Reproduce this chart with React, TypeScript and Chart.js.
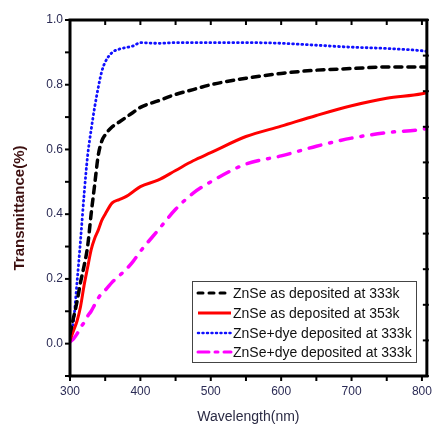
import React, { useEffect, useRef } from "react";
import { Chart, registerables } from "chart.js";

Chart.register(...registerables);

const wavelengths = [300, 305, 310, 315, 320, 325, 330, 335, 340, 345, 350, 360, 370, 380, 390, 400, 425, 450, 475, 500, 550, 600, 650, 700, 750, 800, 807];

const znse333 = [0.03, 0.08, 0.13, 0.19, 0.24, 0.30, 0.40, 0.49, 0.58, 0.625, 0.645, 0.67, 0.685, 0.70, 0.715, 0.73, 0.75, 0.77, 0.785, 0.80, 0.82, 0.835, 0.845, 0.85, 0.855, 0.855, 0.855];
const znse353 = [0.01, 0.04, 0.07, 0.115, 0.18, 0.235, 0.29, 0.325, 0.35, 0.38, 0.40, 0.435, 0.445, 0.455, 0.47, 0.485, 0.505, 0.535, 0.565, 0.59, 0.64, 0.672, 0.705, 0.735, 0.758, 0.772, 0.776];
const dye333a = [0.03, 0.07, 0.19, 0.32, 0.46, 0.58, 0.66, 0.73, 0.79, 0.84, 0.87, 0.90, 0.91, 0.915, 0.92, 0.93, 0.928, 0.93, 0.93, 0.93, 0.93, 0.928, 0.922, 0.916, 0.912, 0.905, 0.903];
const dye333b = [0.005, 0.015, 0.03, 0.05, 0.065, 0.085, 0.10, 0.12, 0.14, 0.155, 0.165, 0.19, 0.21, 0.23, 0.255, 0.285, 0.35, 0.415, 0.465, 0.50, 0.555, 0.58, 0.61, 0.635, 0.652, 0.662, 0.665];

const seriesLabels = [
  "ZnSe as deposited at 333k",
  "ZnSe as deposited at 353k",
  "ZnSe+dye deposited at 333k",
  "ZnSe+dye deposited at 333k",
];

const xTickValues = [300, 400, 500, 600, 700, 800];
const yTickValues = [0.0, 0.2, 0.4, 0.6, 0.8, 1.0];

const FONT = "'Liberation Sans', Arial, sans-serif";

const legendDashes = [[5, 6], [], [1, 3.5], [11, 6, 3, 6]];

const framePlugin = {
  id: "frame",
  afterDraw(chart: any) {
    const ctx = chart.ctx;
    const { left, right, top, bottom } = chart.chartArea;
    const xs = chart.scales.x;
    const ys = chart.scales.y;
    ctx.save();
    ctx.strokeStyle = "#000";
    ctx.lineWidth = 3;
    ctx.setLineDash([]);
    ctx.strokeRect(left, top, right - left, bottom - top);
    ctx.lineWidth = 2;
    for (let v = 300; v <= 800; v += 50) {
      const px = xs.getPixelForValue(v);
      ctx.beginPath();
      ctx.moveTo(px, bottom);
      ctx.lineTo(px, bottom + 5);
      ctx.moveTo(px, top);
      ctx.lineTo(px, top + 5);
      ctx.stroke();
    }
    for (let i = -1; i <= 10; i++) {
      const py = ys.getPixelForValue(i / 10);
      ctx.beginPath();
      ctx.moveTo(left - 5, py);
      ctx.lineTo(left, py);
      ctx.stroke();
    }
    for (let i = 0; i <= 10; i++) {
      const py = top + ((bottom - top) * i) / 10;
      ctx.beginPath();
      ctx.moveTo(right - 4, py);
      ctx.lineTo(right + 2, py);
      ctx.stroke();
    }
    ctx.save();
    ctx.translate(20, 208);
    ctx.rotate(-Math.PI / 2);
    ctx.font = `bold 15px ${FONT}`;
    ctx.fillStyle = "#3d1010";
    ctx.textAlign = "center";
    ctx.textBaseline = "middle";
    ctx.fillText("Transmittance(%)", 0, 0);
    ctx.restore();

    const bx = 192, by = 281, bw = 224, bh = 81;
    ctx.fillStyle = "#fff";
    ctx.fillRect(bx, by, bw, bh);
    ctx.lineWidth = 1;
    ctx.strokeStyle = "#444";
    ctx.strokeRect(bx + 0.5, by + 0.5, bw, bh);
    const rows = [293, 313, 333, 352];
    chart.data.datasets.forEach((ds: any, i: number) => {
      const y = rows[i];
      ctx.beginPath();
      ctx.strokeStyle = ds.borderColor;
      ctx.lineWidth = i === 2 ? 2.5 : 3;
      ctx.lineCap = i === 1 ? "butt" : "round";
      ctx.setLineDash(legendDashes[i]);
      ctx.moveTo(198, y);
      ctx.lineTo(231, y);
      ctx.stroke();
      ctx.setLineDash([]);
      ctx.fillStyle = "#111";
      ctx.font = `14px ${FONT}`;
      ctx.textAlign = "left";
      ctx.textBaseline = "middle";
      ctx.fillText(ds.label, 233, y + 1);
    });
    ctx.restore();
  },
};

export default function App() {
  const ref = useRef<HTMLCanvasElement | null>(null);
  useEffect(() => {
    if (!ref.current) return;
    const mk = (vals: number[]) => wavelengths.map((w, i) => ({ x: w, y: vals[i] }));
    const chart = new Chart(ref.current, {
      type: "line",
      data: {
        datasets: [
          { label: seriesLabels[0], data: mk(znse333), borderColor: "#000000", borderWidth: 3.5, borderDash: [7, 6], borderCapStyle: "round", pointRadius: 0, cubicInterpolationMode: "monotone" },
          { label: seriesLabels[1], data: mk(znse353), borderColor: "#ff0000", borderWidth: 3, pointRadius: 0, cubicInterpolationMode: "monotone" },
          { label: seriesLabels[2], data: mk(dye333a), borderColor: "#1010ff", borderWidth: 2.8, borderDash: [0.8, 3.8], borderCapStyle: "round", pointRadius: 0, cubicInterpolationMode: "monotone" },
          { label: seriesLabels[3], data: mk(dye333b), borderColor: "#ff00ff", borderWidth: 3.5, borderDash: [12, 9, 2, 9], borderCapStyle: "round", pointRadius: 0, cubicInterpolationMode: "monotone" },
        ] as any,
      },
      options: {
        animation: false,
        responsive: false,
        layout: { padding: { top: 20, right: 4, left: 0, bottom: 0 } },
        plugins: { legend: { display: false }, tooltip: { enabled: false } },
        scales: {
          x: {
            type: "linear",
            min: 300,
            max: 807,
            grid: { display: false, drawTicks: false },
            border: { display: false },
            afterFit: (s: any) => { s.height = 50; },
            afterBuildTicks: (s: any) => { s.ticks = xTickValues.map((v) => ({ value: v })); },
            ticks: { padding: 8, color: "#2b2b55", font: { family: FONT, size: 12 }, callback: (v: any) => String(v), maxRotation: 0 },
            title: { display: true, text: "Wavelength(nm)", color: "#2b2b44", font: { family: FONT, size: 14 }, padding: { top: 0, bottom: 0 } },
          },
          y: {
            type: "linear",
            min: -0.1,
            max: 1.0,
            grid: { display: false, drawTicks: false },
            border: { display: false },
            afterFit: (s: any) => { s.width = 70; },
            afterBuildTicks: (s: any) => { s.ticks = yTickValues.map((v) => ({ value: v })); },
            ticks: { padding: 7, color: "#2b2b55", font: { family: FONT, size: 12 }, callback: (v: any) => Number(v).toFixed(1) },
          },
        },
      } as any,
      plugins: [framePlugin],
    });
    return () => chart.destroy();
  }, []);
  return (
    <div style={{ position: "fixed", left: 0, top: 0, width: 440, height: 426, background: "#fff" }}>
      <canvas ref={ref} width={440} height={426} style={{ width: 440, height: 426 }} />
    </div>
  );
}
